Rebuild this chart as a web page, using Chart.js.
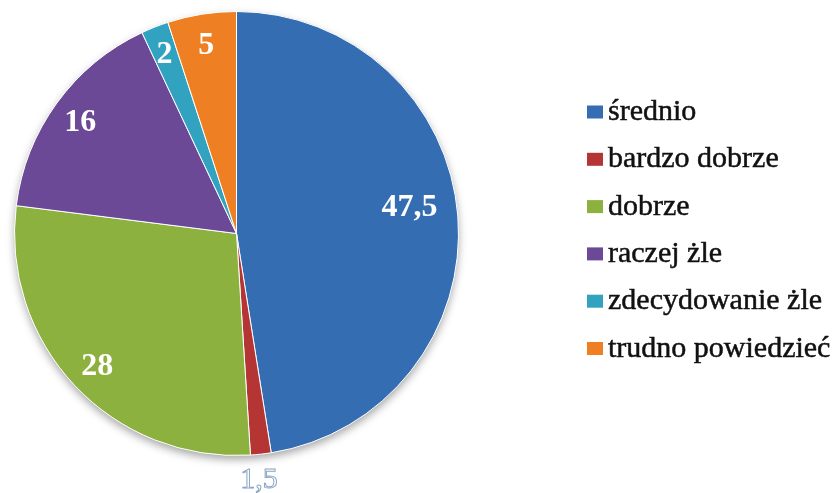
<!DOCTYPE html>
<html>
<head>
<meta charset="utf-8">
<script src="https://cdn.jsdelivr.net/npm/chart.js@4/dist/chart.umd.min.js"></script>
<style>
  html, body { margin: 0; padding: 0; background: #fff; }
  #pieChart { display: block; }
</style>
</head>
<body>
<canvas id="pieChart" width="834" height="493"></canvas>
<script>
// data (percent)
const categories = ['średnio', 'bardzo dobrze', 'dobrze', 'raczej żle', 'zdecydowanie żle', 'trudno powiedzieć'];
const values = [47.5, 1.5, 28, 16, 2, 5];
const sliceColors = ['#356db2', '#b53434', '#8db13f', '#6b4996', '#31a2c0', '#ee7f23'];

// where each value label sits: fraction of radius, and a small turn in degrees
const labelRadius = [0.79, 1.10, 0.86, 0.87, 0.88, 0.87];
const labelTurn = [-5, 1, 0, 0, 0, 0];

const serif = '"Liberation Serif", "Times New Roman", serif';

function formatValue(v) {
  return String(v).replace('.', ',');
}

// soft shadow under the pie
const pieShadow = {
  id: 'pieShadow',
  beforeDatasetsDraw(chart) {
    const arc = chart.getDatasetMeta(0).data[0];
    if (!arc) return;
    const ctx = chart.ctx;
    ctx.save();
    ctx.shadowColor = 'rgba(0,0,0,0.35)';
    ctx.shadowBlur = 8;
    ctx.shadowOffsetY = 4;
    ctx.fillStyle = '#fff';
    ctx.beginPath();
    ctx.arc(arc.x, arc.y, arc.outerRadius, 0, Math.PI * 2);
    ctx.fill();
    ctx.restore();
  }
};

// value labels on the slices
const valueLabels = {
  id: 'valueLabels',
  afterDatasetsDraw(chart) {
    const ctx = chart.ctx;
    const meta = chart.getDatasetMeta(0);
    meta.data.forEach((arc, i) => {
      const p = arc.getProps(['x', 'y', 'startAngle', 'endAngle', 'outerRadius'], true);
      const mid = (p.startAngle + p.endAngle) / 2 + labelTurn[i] * Math.PI / 180;
      const r = p.outerRadius * labelRadius[i];
      const lx = p.x + Math.cos(mid) * r;
      const ly = p.y + Math.sin(mid) * r + 3;
      const txt = formatValue(values[i]);
      ctx.save();
      ctx.textAlign = 'center';
      ctx.textBaseline = 'middle';
      if (labelRadius[i] > 1) {
        // the small slice gets its label outside, white with a thin outline
        ctx.font = '30px ' + serif;
        ctx.fillStyle = '#fff';
        ctx.strokeStyle = '#8aa6c4';
        ctx.lineWidth = 1;
        ctx.fillText(txt, lx, ly);
        ctx.strokeText(txt, lx, ly);
      } else {
        ctx.font = 'bold 32px ' + serif;
        ctx.fillStyle = '#fff';
        ctx.fillText(txt, lx, ly);
      }
      ctx.restore();
    });
  }
};

// legend on the right, squares close to the text like the original
const sideLegend = {
  id: 'sideLegend',
  afterDraw(chart, args, opts) {
    const ctx = chart.ctx;
    const colors = chart.data.datasets[0].backgroundColor;
    ctx.save();
    ctx.font = '30px ' + serif;
    ctx.textAlign = 'left';
    ctx.textBaseline = 'alphabetic';
    ctx.lineWidth = 0.5;
    chart.data.labels.forEach((label, i) => {
      const cy = opts.top + i * opts.gap;
      ctx.fillStyle = colors[i];
      ctx.fillRect(opts.x, cy - 6.5, 16, 13);
      ctx.fillStyle = '#111';
      ctx.strokeStyle = '#111';
      ctx.fillText(label, opts.x + 21, cy + 8);
      ctx.strokeText(label, opts.x + 21, cy + 8);
    });
    ctx.restore();
  }
};

const ctx = document.getElementById('pieChart').getContext('2d');
const pieChart = new Chart(ctx, {
  type: 'pie',
  data: {
    labels: categories,
    datasets: [{
      data: values,
      backgroundColor: sliceColors,
      borderColor: '#ffffff',
      borderWidth: 1
    }]
  },
  options: {
    responsive: false,
    animation: false,
    layout: {
      padding: { left: 14, right: 375, top: 11, bottom: 37 }
    },
    plugins: {
      legend: { display: false },
      tooltip: { enabled: false },
      sideLegend: { x: 587, top: 112, gap: 47.3 }
    }
  },
  plugins: [pieShadow, valueLabels, sideLegend]
});
</script>
</body>
</html>
